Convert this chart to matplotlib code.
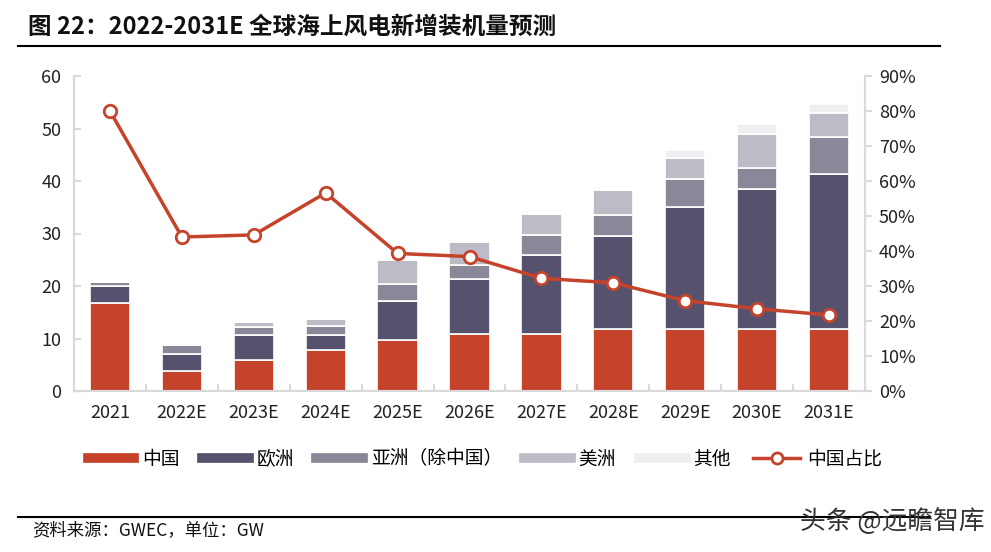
import matplotlib
matplotlib.use("Agg")
import matplotlib.pyplot as plt
import numpy as np
from matplotlib.lines import Line2D

plt.rcParams['font.family'] = ['Noto Sans CJK SC', 'DejaVu Sans']

years = ["2021", "2022E", "2023E", "2024E", "2025E", "2026E", "2027E", "2028E", "2029E", "2030E", "2031E"]
china = [16.8, 3.9, 5.9, 7.8, 9.8, 10.8, 10.9, 11.8, 11.8, 11.8, 11.8]
europe = [3.2, 3.1, 4.8, 2.9, 7.3, 10.5, 15.0, 17.7, 23.3, 26.6, 29.5]
asia = [0.8, 1.8, 1.5, 1.6, 3.2, 2.7, 3.8, 4.0, 5.3, 4.0, 7.1]
americas = [0.0, 0.0, 0.9, 1.4, 4.7, 4.3, 4.0, 4.7, 4.0, 6.5, 4.5]
others = [0.0, 0.0, 0.0, 0.0, 0.0, 0.0, 0.0, 0.0, 1.5, 1.9, 1.8]
china_share = [80.0, 44.0, 44.6, 56.6, 39.3, 38.4, 32.2, 30.9, 25.8, 23.5, 21.7]

series = [("中国", china, "#C5432A"), ("欧洲", europe, "#56526E"),
          ("亚洲（除中国）", asia, "#8A8898"), ("美洲", americas, "#BDBBC6"),
          ("其他", others, "#EEEEF0")]
line_color = "#C5432A"

fig = plt.figure(figsize=(9.91, 5.52), dpi=100)
ax = fig.add_axes([74/991, 1-391/552, (865-74)/991, (391-76)/552])
ax2 = ax.twinx()

x = np.arange(len(years))
bottom = np.zeros(len(years))
for name, vals, col in series:
    v = np.array(vals)
    ax.bar(x, v, 0.56, bottom=bottom, color=col, edgecolor="white", linewidth=1.2, label=name, zorder=2)
    bottom += v

ax2.plot(x, china_share, color=line_color, lw=2.5, marker="o", ms=9,
         markerfacecolor="white", markeredgecolor=line_color, markeredgewidth=2, zorder=5)

ax.set_xlim(-0.5, len(years)-0.5)
ax.set_ylim(0, 60)
ax.set_yticks(range(0, 61, 10))
ax2.set_ylim(0, 90)
ax2.set_yticks(range(0, 91, 10))
ax2.set_yticklabels([f"{v}%" for v in range(0, 91, 10)])
ax.set_xticks(x)
ax.set_xticklabels(years)
ax.set_xticks(np.arange(-0.5, len(years), 1), minor=True)

spine_col = "#D9D9D9"
for a in (ax, ax2):
    a.spines["top"].set_visible(False)
    for s in ("left", "right", "bottom"):
        a.spines[s].set_color(spine_col)
        a.spines[s].set_linewidth(1.5)
ax.tick_params(axis="x", which="major", length=0, labelsize=13, pad=9, colors="#222222")
ax.tick_params(axis="x", which="minor", length=5, direction="in", color=spine_col, width=1.5)
ax.tick_params(axis="y", length=5, direction="in", color=spine_col, width=1.5, labelsize=13, pad=9, labelcolor="#222222")
ax2.tick_params(axis="y", length=5, direction="out", color=spine_col, width=1.5, labelsize=13, pad=5, labelcolor="#222222")
ax2.set_zorder(ax.get_zorder() + 1)
ax2.patch.set_visible(False)

handles = [Line2D([0], [0], color=c, lw=7) for _, _, c in series]
handles.append(Line2D([0], [0], color=line_color, lw=2.5, marker="o", ms=8,
                      markerfacecolor="white", markeredgecolor=line_color, markeredgewidth=2))
labels = [n for n, _, _ in series] + ["中国占比"]
fig.legend(handles, labels, loc="center", bbox_to_anchor=(485/991, 1-459/552), ncol=6,
           frameon=False, fontsize=13.5, handlelength=2.5, handletextpad=0.4, columnspacing=1.2)

fig.text(28/991, 1-27/552, "图 22：2022-2031E 全球海上风电新增装机量预测", fontsize=17,
         fontweight="bold", va="center", ha="left", color="#111111")
fig.add_artist(Line2D([18/991, 940/991], [1-46/552, 1-46/552], color="black", lw=1.5))
fig.add_artist(Line2D([18/991, 930/991], [1-517/552, 1-517/552], color="black", lw=1.5))
fig.text(32/991, 1-530/552, "资料来源：GWEC，单位：GW", fontsize=12.5, va="center", ha="left", color="#111111")
fig.text(985/991, 1-521/552, "头条 @远瞻智库", fontsize=18.5, va="center", ha="right", color="#333333")

fig.savefig("out.png", dpi=100)
